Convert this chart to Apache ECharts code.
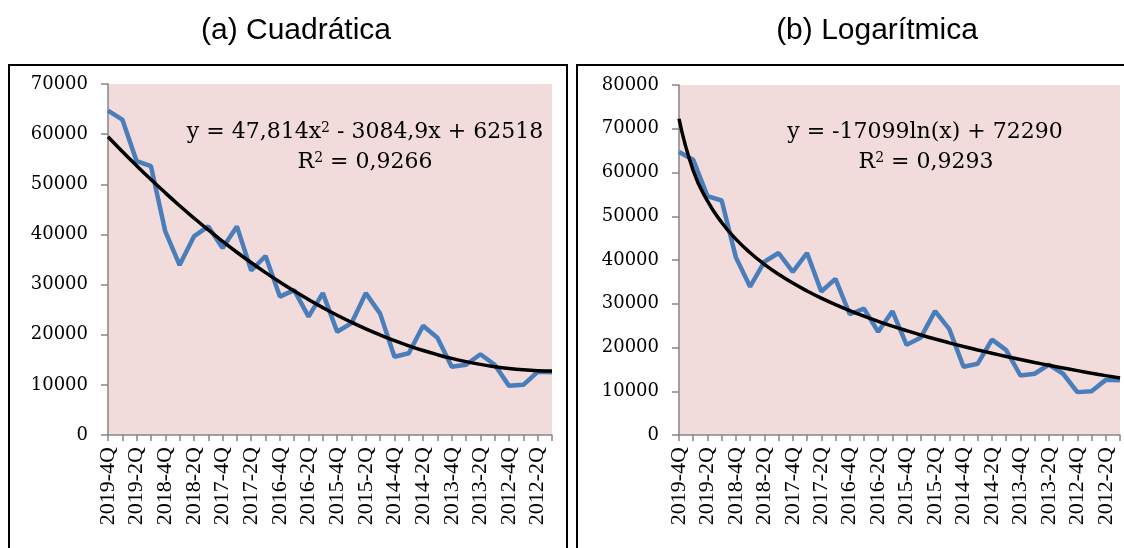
<!DOCTYPE html>
<html>
<head>
<meta charset="utf-8">
<script src="https://cdn.jsdelivr.net/npm/echarts@6/dist/echarts.min.js"></script>
<style>
  html, body { margin: 0; padding: 0; background: #fff; }
  #main { width: 1124px; height: 548px; }
</style>
</head>
<body>
<div id="main"></div>
<script>
var quarters = [
  '2019-4Q', '2019-3Q', '2019-2Q', '2019-1Q',
  '2018-4Q', '2018-3Q', '2018-2Q', '2018-1Q',
  '2017-4Q', '2017-3Q', '2017-2Q', '2017-1Q',
  '2016-4Q', '2016-3Q', '2016-2Q', '2016-1Q',
  '2015-4Q', '2015-3Q', '2015-2Q', '2015-1Q',
  '2014-4Q', '2014-3Q', '2014-2Q', '2014-1Q',
  '2013-4Q', '2013-3Q', '2013-2Q', '2013-1Q',
  '2012-4Q', '2012-3Q', '2012-2Q', '2012-1Q'
];

var observed = [
  64700, 62900, 54600, 53600, 40600, 33900, 39600, 41600,
  37300, 41600, 32800, 35700, 27600, 28900, 23600, 28300,
  20600, 22300, 28300, 24200, 15600, 16300, 21800, 19400,
  13600, 14000, 16100, 14000, 9800, 10000, 12600, 12500
];

// fitted curves as drawn in the picture
var quadTrend = [
  59481, 56539, 53694, 50943, 48289, 45730, 43267, 40899,
  38627, 36450, 34370, 32384, 30495, 28701, 27003, 25400,
  23893, 22482, 21166, 19946, 18821, 17792, 16859, 16021,
  15279, 14633, 14082, 13627, 13267, 13004, 12835, 12763
];

var logTrend = [
  72290, 60438, 53505, 48586, 44770, 41653, 39017, 36734,
  34720, 32918, 31288, 29801, 28432, 27165, 25985, 24881,
  23845, 22868, 21943, 21066, 20232, 19436, 18676, 17948,
  17250, 16580, 15934, 15313, 14713, 14133, 13572, 13029
];

var yMaxA = 70000;
var yMaxB = 80000;

var chartDom = document.getElementById('main');
var myChart = echarts.init(chartDom);
var option;

var axisGrey = '#868686';

function xAxisFor(gridIndex) {
  return {
    type: 'category',
    gridIndex: gridIndex,
    data: quarters,
    boundaryGap: false,
    axisLine: { lineStyle: { color: axisGrey, width: 1.5 } },
    axisTick: { show: true, interval: 0, length: 6, lineStyle: { color: axisGrey, width: 1.5 } },
    axisLabel: {
      interval: 1,
      rotate: 90,
      margin: 12,
      color: '#000',
      fontFamily: 'Liberation Serif',
      fontSize: 22
    },
    splitLine: { show: false }
  };
}

function yAxisFor(gridIndex, max) {
  return {
    type: 'value',
    gridIndex: gridIndex,
    min: 0,
    max: max,
    interval: 10000,
    axisLine: { show: true, lineStyle: { color: axisGrey, width: 1.5 } },
    axisTick: { show: true, length: 7, lineStyle: { color: axisGrey, width: 1.5 } },
    axisLabel: {
      margin: 20,
      color: '#000',
      fontFamily: 'DejaVu Serif',
      fontSize: 18,
      formatter: function (v) { return String(v); }
    },
    splitLine: { show: false }
  };
}

var eqStyle = {
  font: '22px "DejaVu Serif"',
  fill: '#000',
  textAlign: 'center',
  textVerticalAlign: 'middle',
  rich: {
    n: { fontFamily: 'DejaVu Serif', fontSize: 22, color: '#000' },
    s: { fontFamily: 'DejaVu Serif', fontSize: 14, color: '#000', verticalAlign: 'top', padding: [0, 0, 8, 0] }
  }
};

function eqText(x, y, text) {
  return {
    type: 'text',
    x: x, y: y,
    z: 20,
    style: Object.assign({}, eqStyle, { text: text })
  };
}

option = {
  animation: false,
  backgroundColor: '#fff',
  grid: [
    { left: 108, top: 84, width: 444, height: 351, show: true, backgroundColor: '#f2dcdb', borderWidth: 0 },
    { left: 679, top: 85, width: 441, height: 350, show: true, backgroundColor: '#f2dcdb', borderWidth: 0 }
  ],
  xAxis: [xAxisFor(0), xAxisFor(1)],
  yAxis: [yAxisFor(0, yMaxA), yAxisFor(1, yMaxB)],
  series: [
    {
      name: 'datos',
      type: 'line',
      xAxisIndex: 0,
      yAxisIndex: 0,
      data: observed,
      showSymbol: false,
      lineStyle: { color: '#4a7ebb', width: 4.5 }
    },
    {
      name: 'Cuadrática',
      type: 'line',
      xAxisIndex: 0,
      yAxisIndex: 0,
      data: quadTrend,
      smooth: true,
      showSymbol: false,
      lineStyle: { color: '#000', width: 3.5 },
      z: 3
    },
    {
      name: 'datos',
      type: 'line',
      xAxisIndex: 1,
      yAxisIndex: 1,
      data: observed,
      showSymbol: false,
      lineStyle: { color: '#4a7ebb', width: 4.5 }
    },
    {
      name: 'Logarítmica',
      type: 'line',
      xAxisIndex: 1,
      yAxisIndex: 1,
      data: logTrend,
      smooth: true,
      showSymbol: false,
      lineStyle: { color: '#000', width: 3.5 },
      z: 3
    }
  ],
  graphic: [
    {
      type: 'rect',
      shape: { x: 9, y: 65, width: 558, height: 520 },
      style: { fill: 'none', stroke: '#000', lineWidth: 2 },
      z: 10
    },
    {
      type: 'rect',
      shape: { x: 577, y: 65, width: 600, height: 520 },
      style: { fill: 'none', stroke: '#000', lineWidth: 2 },
      z: 10
    },
    {
      type: 'text',
      x: 296, y: 31,
      style: { text: '(a) Cuadrática', font: '30px "Liberation Sans"', fill: '#000', textAlign: 'center', textVerticalAlign: 'middle' }
    },
    {
      type: 'text',
      x: 877, y: 31,
      style: { text: '(b) Logarítmica', font: '30px "Liberation Sans"', fill: '#000', textAlign: 'center', textVerticalAlign: 'middle' }
    },
    eqText(365, 132, '{n|y = 47,814x}{s|2}{n| - 3084,9x + 62518}'),
    eqText(365, 162, '{n|R}{s|2}{n| = 0,9266}'),
    eqText(925, 132, '{n|y = -17099ln(x) + 72290}'),
    eqText(926, 162, '{n|R}{s|2}{n| = 0,9293}')
  ]
};

option && myChart.setOption(option);
</script>
</body>
</html>
